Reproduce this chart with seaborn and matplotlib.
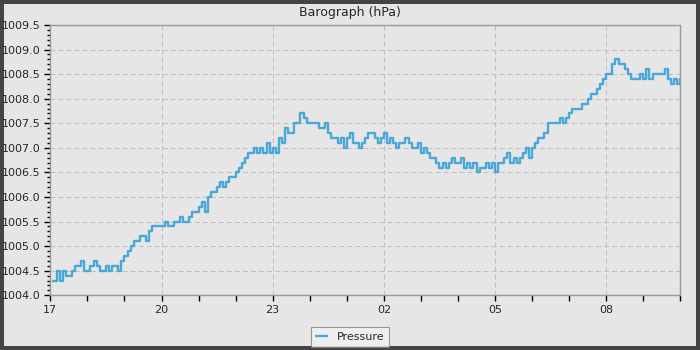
import pandas as pd
import seaborn as sns
import matplotlib.pyplot as plt
import matplotlib.dates as mdates
from matplotlib.ticker import MultipleLocator

# pressure readings, one row per hour, 5-minute steps starting 17:05
pressure = [
    1004.3, 1004.5, 1004.3, 1004.5, 1004.4, 1004.4, 1004.5, 1004.6, 1004.6, 1004.7, 1004.5,
    1004.5, 1004.6, 1004.7, 1004.6, 1004.5, 1004.5, 1004.6, 1004.5, 1004.6, 1004.6, 1004.5, 1004.7,
    1004.8, 1004.9, 1005.0, 1005.1, 1005.1, 1005.2, 1005.2, 1005.1, 1005.3, 1005.4, 1005.4, 1005.4,
    1005.4, 1005.5, 1005.4, 1005.4, 1005.5, 1005.5, 1005.6, 1005.5, 1005.5, 1005.6, 1005.7, 1005.7,
    1005.8, 1005.9, 1005.7, 1006.0, 1006.1, 1006.1, 1006.2, 1006.3, 1006.2, 1006.3, 1006.4, 1006.4,
    1006.5, 1006.6, 1006.7, 1006.8, 1006.9, 1006.9, 1007.0, 1006.9, 1007.0, 1006.9, 1007.1, 1006.9,
    1007.0, 1006.9, 1007.2, 1007.1, 1007.4, 1007.3, 1007.3, 1007.5, 1007.5, 1007.7, 1007.6, 1007.5,
    1007.5, 1007.5, 1007.5, 1007.4, 1007.4, 1007.5, 1007.3, 1007.2, 1007.2, 1007.1, 1007.2, 1007.0,
    1007.2, 1007.3, 1007.1, 1007.1, 1007.0, 1007.1, 1007.2, 1007.3, 1007.3, 1007.2, 1007.1, 1007.2,
    1007.3, 1007.1, 1007.2, 1007.1, 1007.0, 1007.1, 1007.1, 1007.2, 1007.1, 1007.0, 1007.0, 1007.1,
    1006.9, 1007.0, 1006.9, 1006.8, 1006.8, 1006.7, 1006.6, 1006.7, 1006.6, 1006.7, 1006.8, 1006.7,
    1006.7, 1006.8, 1006.6, 1006.7, 1006.6, 1006.7, 1006.5, 1006.6, 1006.6, 1006.7, 1006.6, 1006.7,
    1006.5, 1006.7, 1006.7, 1006.8, 1006.9, 1006.7, 1006.8, 1006.7, 1006.8, 1006.9, 1007.0, 1006.8,
    1007.0, 1007.1, 1007.2, 1007.2, 1007.3, 1007.5, 1007.5, 1007.5, 1007.5, 1007.6, 1007.5, 1007.6,
    1007.7, 1007.8, 1007.8, 1007.8, 1007.9, 1007.9, 1008.0, 1008.1, 1008.1, 1008.2, 1008.3, 1008.4,
    1008.5, 1008.5, 1008.7, 1008.8, 1008.7, 1008.7, 1008.6, 1008.5, 1008.4, 1008.4, 1008.4, 1008.5,
    1008.4, 1008.6, 1008.4, 1008.5, 1008.5, 1008.5, 1008.5, 1008.6, 1008.4, 1008.3, 1008.4, 1008.3, 1008.4,
]
times = pd.date_range("2024-01-17 17:05", periods=len(pressure), freq="5min")
baro_df = pd.DataFrame({"time": times, "pressure": pressure})

bg = "#e6e6e6"
sns.set_style("ticks", {"axes.facecolor": bg, "figure.facecolor": bg,
                        "axes.edgecolor": "#999999"})
plt.rcParams["font.family"] = ["DejaVu Sans"]

fig, ax = plt.subplots(figsize=(7, 3.5), dpi=100)
fig.subplots_adjust(left=0.0719, right=0.9719, top=0.9286, bottom=0.1563)
fig.patch.set_edgecolor("#444444")
fig.patch.set_linewidth(4.5)

sns.lineplot(data=baro_df, x="time", y="pressure", ax=ax,
             color="#4aa8d8", linewidth=1.7, drawstyle="steps-post",
             label="Pressure")

ax.set_xlim(pd.Timestamp("2024-01-17 17:00"), pd.Timestamp("2024-01-18 10:00"))
ax.set_ylim(1004.0, 1009.5)

ax.xaxis.set_major_locator(mdates.HourLocator(byhour=[2, 5, 8, 11, 14, 17, 20, 23]))
ax.xaxis.set_major_formatter(mdates.DateFormatter("%H"))
ax.xaxis.set_minor_locator(mdates.HourLocator())
ax.yaxis.set_major_locator(MultipleLocator(0.5))
ax.yaxis.set_minor_locator(MultipleLocator(0.1))
ax.yaxis.set_major_formatter(plt.FormatStrFormatter("%.1f"))

ax.tick_params(axis="both", which="major", labelsize=8, length=4, width=1,
               color="black", pad=3)
ax.tick_params(axis="x", which="minor", length=4, width=1, color="black")
ax.tick_params(axis="y", which="minor", length=2, width=1, color="black")

ax.grid(True, which="major", color="#c0c0c0", linewidth=0.75,
        linestyle=(0, (4.8, 2.9)))
for s in ax.spines.values():
    s.set_visible(True)
    s.set_linewidth(1)

ax.set(xlabel=None, ylabel=None)
fig.suptitle("Barograph (hPa)", fontsize=9, y=0.984)

ax.get_legend().remove()
handles, labels = ax.get_legend_handles_labels()
leg = fig.legend(handles, labels, loc="lower center", bbox_to_anchor=(0.5, 0.008),
                 fontsize=8, frameon=True, fancybox=False, handlelength=1.0,
                 handletextpad=0.9, borderpad=0.45, borderaxespad=0)
leg.get_frame().set_edgecolor("#808080")
leg.get_frame().set_facecolor("#f2f2f2")
leg.get_frame().set_linewidth(0.8)

plt.savefig("out.png", dpi=100, facecolor=bg, edgecolor="#444444")
